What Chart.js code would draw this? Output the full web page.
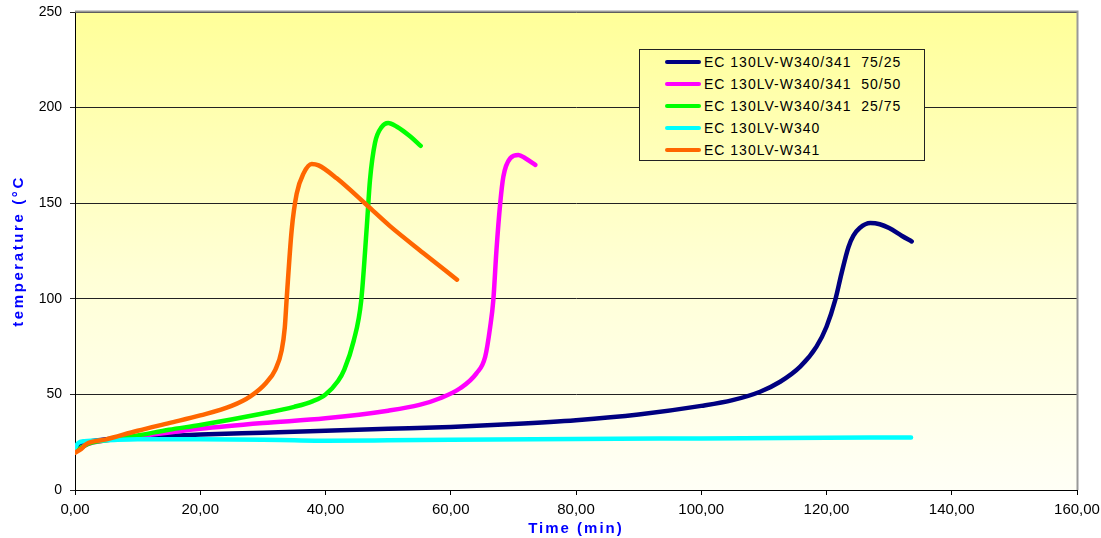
<!DOCTYPE html>
<html>
<head>
<meta charset="utf-8">
<script src="https://cdn.jsdelivr.net/npm/chart.js@4"></script>
<style>
  html, body { margin: 0; padding: 0; background: #fff; }
  #wrap { position: relative; width: 1101px; height: 538px; }
  #legend {
    position: absolute; left: 639px; top: 49px; width: 286px; height: 112px;
    border: 1px solid #222; font: 14px Arial, "Liberation Sans", sans-serif;
    letter-spacing: 1px; color: #000; box-sizing: border-box; padding-top: 1px;
    background: linear-gradient(#FFFFA1, #FFFFBB);
  }
  #legend .row { height: 22px; display: flex; align-items: center; white-space: pre; }
  #legend .sw { width: 36px; height: 4px; border-radius: 2px; margin-left: 25px; margin-right: 3px; }
</style>
</head>
<body>
<div id="wrap">
  <canvas id="chart" width="1101" height="538"></canvas>
  <div id="legend"></div>
</div>
<script>
// series names and colours
const seriesNames = ['EC 130LV-W340/341  75/25', 'EC 130LV-W340/341  50/50', 'EC 130LV-W340/341  25/75', 'EC 130LV-W340', 'EC 130LV-W341'];
const seriesColors = ['#000080', '#FF00FF', '#00FF00', '#00FFFF', '#FF6600'];

// 75/25
const time7525 = [0, 1, 2, 5, 10, 20, 30, 40, 50, 60, 70, 80, 90, 100, 105, 109.4, 112.6, 115.8, 118.4, 120, 121.4, 122.4, 123.5, 124.3, 125.3, 127, 128.5, 130, 132, 133.6];
const temp7525 = [23, 24, 25, 26.5, 27.5, 29, 30, 31, 32, 33, 34.5, 36.5, 39.5, 44, 47, 51.4, 56.6, 64.5, 75, 85.4, 99.4, 113.3, 127, 133, 137, 139.6, 139, 137, 133, 130];

// 50/50
const time5050 = [0, 2, 5, 10, 20, 30, 40, 50, 55, 58.3, 61.5, 64.1, 65.5, 66.3, 66.8, 67.3, 67.9, 68.4, 69.5, 70.8, 71.9, 73.5];
const temp5050 = [20, 24, 26, 28, 32, 35, 37.5, 41.5, 44.5, 48, 53.2, 61, 69.7, 85.4, 99.4, 125.5, 150, 163.9, 173.5, 175.2, 173.5, 170];

// 25/75
const time2575 = [0, 2, 5, 10, 15, 20, 30, 35, 38, 40, 42, 43, 44.5, 45.7, 46.6, 47.1, 47.9, 49, 50, 51.4, 53.5, 55.2];
const temp2575 = [20, 24, 26, 28.5, 31.5, 34, 40, 43.5, 46.5, 50, 57, 63, 78, 99, 138, 162, 181.5, 190, 192, 190, 185, 180];

// W340
const timeW340 = [0, 0.5, 1.5, 5, 10, 20, 30, 35, 40, 50, 60, 80, 100, 120, 133.5];
const tempW340 = [22, 24.5, 25.5, 26, 26.5, 26.5, 26.3, 26, 25.8, 26, 26.3, 26.7, 27, 27.3, 27.5];

// W341
const timeW341 = [0, 1, 1.8, 5, 10, 15, 20, 25, 28, 30.5, 32, 33, 33.5, 33.8, 34.6, 35.4, 36.5, 37.8, 38.9, 41.8, 46.6, 50.3, 55.6, 61];
const tempW341 = [19.5, 21.5, 24, 26.5, 31, 35, 39, 44, 49, 56, 63, 73, 85, 100, 136, 155, 165.6, 170.5, 169.8, 163, 149, 138, 124, 110];

const xTicks = [0, 20, 40, 60, 80, 100, 120, 140, 160];
const yTicks = [0, 50, 100, 150, 200, 250];

const seriesTimes = [time7525, time5050, time2575, timeW340, timeW341];
const seriesTemps = [temp7525, temp5050, temp2575, tempW340, tempW341];

const fontFamily = 'Arial, "Liberation Sans", sans-serif';

const datasets = seriesNames.map((name, i) => ({
    label: name,
    data: seriesTimes[i].map((t, j) => ({ x: t, y: seriesTemps[i][j] })),
    borderColor: seriesColors[i],
    backgroundColor: seriesColors[i],
    borderWidth: 4.5,
    pointRadius: 0,
    cubicInterpolationMode: 'monotone',
    borderCapStyle: 'round',
    borderJoinStyle: 'round',
    fill: false,
    order: seriesNames.length - i // later series drawn on top, like Excel
}));

// wider letter spacing for axis titles (Excel look)
function spaced(scale, method, spacing) {
    const orig = scale[method];
    if (orig._spaced) return;
    scale[method] = function (...args) {
        this.ctx.save();
        this.ctx.letterSpacing = spacing;
        orig.apply(this, args);
        this.ctx.restore();
    };
    scale[method]._spaced = true;
}

// plot background gradient + grey frame
const plotFrame = {
    id: 'plotFrame',
    beforeDraw(chart) {
        const { ctx, chartArea: a } = chart;
        const g = ctx.createLinearGradient(0, a.top, 0, a.bottom);
        g.addColorStop(0, '#FFFF99');
        g.addColorStop(0.55, '#FFFFD6');
        g.addColorStop(1, '#FFFFF6');
        ctx.save();
        ctx.fillStyle = g;
        ctx.fillRect(a.left, a.top, a.right - a.left, a.bottom - a.top);
        ctx.restore();
    },
    afterDraw(chart) {
        const { ctx, chartArea: a } = chart;
        ctx.save();
        ctx.strokeStyle = '#999';
        ctx.lineWidth = 2;
        ctx.beginPath();
        ctx.moveTo(a.left, a.top - 0.5);
        ctx.lineTo(a.right + 0.5, a.top - 0.5);
        ctx.lineTo(a.right + 0.5, a.bottom);
        ctx.stroke();
        ctx.restore();
    }
};

const ctx = document.getElementById('chart').getContext('2d');
new Chart(ctx, {
    type: 'line',
    data: { datasets },
    plugins: [plotFrame],
    options: {
        responsive: false,
        animation: false,
        layout: { padding: { left: 0, right: 24, top: 12, bottom: 0 } },
        plugins: { legend: { display: false }, tooltip: { enabled: false } },
        scales: {
            x: {
                type: 'linear',
                min: 0, max: 160,
                afterBuildTicks: (s) => { s.ticks = xTicks.map(v => ({ value: v })); },
                afterFit: (s) => {
                    s.height = 48;
                    s.paddingLeft = 0;
                    s.paddingRight = 0;
                    spaced(s, 'drawTitle', '2px');
                },
                ticks: {
                    color: '#000', padding: 6,
                    font: { family: fontFamily, size: 15 },
                    maxRotation: 0,
                    callback: (v) => v.toFixed(2).replace('.', ',')
                },
                grid: { drawOnChartArea: false, drawTicks: true, tickLength: 5, color: '#000' },
                border: { color: '#000', width: 1 },
                title: {
                    display: true, text: 'Time (min)', color: '#0000FF',
                    font: { family: fontFamily, size: 15, weight: 'bold' },
                    padding: { top: 0, bottom: 0 }
                }
            },
            y: {
                min: 0, max: 250,
                afterBuildTicks: (s) => { s.ticks = yTicks.map(v => ({ value: v })); },
                afterFit: (s) => {
                    s.width = 75;
                    s.paddingTop = 0;
                    s.paddingBottom = 0;
                    spaced(s, 'drawTitle', '2.6px');
                },
                ticks: {
                    color: '#000', padding: 8,
                    font: { family: fontFamily, size: 14 }
                },
                grid: { color: '#222', lineWidth: 1, drawTicks: true, tickLength: 5 },
                border: { color: '#000', width: 1 },
                title: {
                    display: true, text: 'temperature (°C', color: '#0000FF',
                    font: { family: fontFamily, size: 15, weight: 'bold' },
                    padding: { top: 10, bottom: 0 }
                }
            }
        }
    }
});

// legend in the plot, Excel style
const legendEl = document.getElementById('legend');
seriesNames.forEach((name, i) => {
    const row = document.createElement('div');
    row.className = 'row';
    const sw = document.createElement('span');
    sw.className = 'sw';
    sw.style.background = seriesColors[i];
    const txt = document.createElement('span');
    txt.textContent = name;
    row.appendChild(sw);
    row.appendChild(txt);
    legendEl.appendChild(row);
});
</script>
</body>
</html>
